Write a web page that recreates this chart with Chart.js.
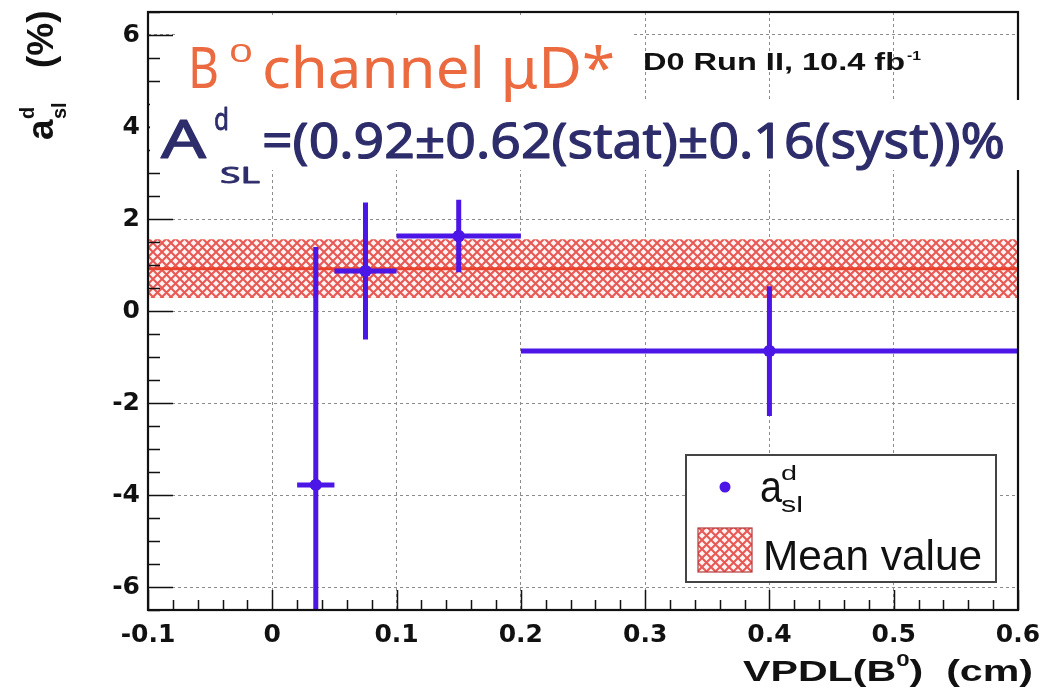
<!DOCTYPE html>
<html><head><meta charset="utf-8">
<script src="https://cdn.jsdelivr.net/npm/chart.js@4.4.1/dist/chart.umd.min.js"></script>
<style>html,body{margin:0;padding:0;background:#fff;}#wrap{width:1054px;height:696px;}</style>
</head><body><div id="wrap"><canvas id="c" width="1054" height="696"></canvas></div>
<script>
// ---- data ----
const vpdlCenter = [0.035, 0.075, 0.15, 0.40];
const vpdlLow    = [0.02, 0.05, 0.10, 0.20];
const vpdlHigh   = [0.05, 0.10, 0.20, 0.60];
const aslValue   = [-3.78, 0.87, 1.63, -0.87];
const aslError   = [5.17, 1.49, 0.79, 1.41];
const meanValue  = 0.92;
const meanError  = 0.64;
const xRange = [-0.1, 0.6];
const yRange = [-6.5, 6.5];
const xTickValues = [-0.1, 0, 0.1, 0.2, 0.3, 0.4, 0.5, 0.6];
const xTickLabels = ['-0.1','0','0.1','0.2','0.3','0.4','0.5','0.6'];
const yTickValues = [-6, -4, -2, 0, 2, 4, 6];
const yTickLabels = ['-6','-4','-2','0','2','4','6'];
const xMinorStep = 0.02, yMinorStep = 0.5;

const BLUE = '#4b16e6';
const RED = '#e8402a';

function makeHatch(){
  const n = 9;
  const p = document.createElement('canvas'); p.width = n; p.height = n;
  const g = p.getContext('2d');
  g.fillStyle = '#fff3f3'; g.fillRect(0,0,n,n);
  g.strokeStyle = 'rgba(228,72,68,0.9)'; g.lineWidth = 2.1;
  g.beginPath();
  g.moveTo(-2,-2); g.lineTo(n+2,n+2);
  g.moveTo(n+2,-2); g.lineTo(-2,n+2);
  g.stroke();
  return g.createPattern(p, 'repeat');
}
const hatch = makeHatch();

function fitText(ctx, text, font, color, x, y, w, stroke){
  ctx.save();
  ctx.font = font; ctx.fillStyle = color; ctx.textAlign = 'left'; ctx.textBaseline = 'alphabetic';
  const m = ctx.measureText(text).width;
  ctx.translate(x, y); ctx.scale(w / m, 1);
  ctx.fillText(text, 0, 0);
  if (stroke){ ctx.strokeStyle = color; ctx.lineWidth = stroke; ctx.lineJoin = 'round'; ctx.strokeText(text, 0, 0); }
  ctx.restore();
}
// runs: [{t, font, dy}] laid out in a row, whole row scaled to width w
function fitRuns(ctx, runs, color, x, y, w){
  ctx.save();
  ctx.fillStyle = color; ctx.textAlign = 'left'; ctx.textBaseline = 'alphabetic';
  let total = 0;
  runs.forEach(r => { ctx.font = r.font; r.w = ctx.measureText(r.t).width; total += r.w; });
  ctx.translate(x, y); ctx.scale(w / total, 1);
  let cx = 0;
  runs.forEach(r => { ctx.font = r.font; ctx.fillText(r.t, cx, r.dy || 0); cx += r.w; });
  ctx.restore();
}

const errorBars = {
  id: 'errorBars',
  afterDatasetsDraw(chart){
    const {ctx, chartArea: a, scales: {x, y}} = chart;
    ctx.save();
    ctx.beginPath(); ctx.rect(a.left, a.top, a.right - a.left, a.bottom - a.top); ctx.clip();
    ctx.strokeStyle = BLUE; ctx.lineWidth = 5; ctx.lineCap = 'butt';
    for (let i = 0; i < vpdlCenter.length; i++){
      const py = y.getPixelForValue(aslValue[i]);
      const px = x.getPixelForValue(vpdlCenter[i]);
      ctx.beginPath();
      ctx.moveTo(x.getPixelForValue(vpdlLow[i]), py);
      ctx.lineTo(x.getPixelForValue(vpdlHigh[i]), py);
      ctx.moveTo(px, y.getPixelForValue(aslValue[i] + aslError[i]));
      ctx.lineTo(px, y.getPixelForValue(aslValue[i] - aslError[i]));
      ctx.stroke();
      ctx.beginPath(); ctx.fillStyle = BLUE; ctx.arc(px, py, 6, 0, Math.PI*2); ctx.fill();
    }
    ctx.restore();
  }
};

const decor = {
  id: 'decor',
  afterDraw(chart){
    const {ctx, chartArea: a, scales: {x, y}} = chart;
    ctx.save();
    // ticks (inside)
    ctx.strokeStyle = '#111'; ctx.lineWidth = 1.5;
    ctx.beginPath();
    for (let v = yRange[0]; v <= yRange[1] + 1e-9; v += yMinorStep){
      const major = Math.abs(v / 2 - Math.round(v / 2)) < 1e-6;
      const py = Math.round(y.getPixelForValue(v)) + 0.5;
      ctx.moveTo(a.left, py); ctx.lineTo(a.left + (major ? 25 : 12), py);
    }
    for (let v = xRange[0]; v <= xRange[1] + 1e-9; v += xMinorStep){
      const major = Math.abs(v / 0.1 - Math.round(v / 0.1)) < 1e-6;
      const px = Math.round(x.getPixelForValue(v)) + 0.5;
      ctx.moveTo(px, a.bottom); ctx.lineTo(px, a.bottom - (major ? 20 : 10));
    }
    ctx.stroke();
    // frame
    ctx.strokeStyle = '#111'; ctx.lineWidth = 2.2;
    ctx.strokeRect(a.left, a.top, a.right - a.left, a.bottom - a.top);

    // white label boxes
    ctx.fillStyle = '#fff';
    ctx.fillRect(178, 16, 455, 84);
    ctx.fillRect(150, 100, 880, 70);

    // orange title
    const ORANGE = '#ec6a3f';
    fitText(ctx, 'B', '57px "Noto Sans"', ORANGE, 188, 88, 31);
    fitText(ctx, '0', '26px "Noto Sans"', ORANGE, 229, 62, 24);
    fitText(ctx, 'channel μD*', '57px "Noto Sans"', ORANGE, 262, 88, 353);

    // blue formula
    const NAVY = '#2e2d6b';
    fitText(ctx, 'A', '53px "Noto Sans"', NAVY, 161, 158, 45, 1.2);
    fitText(ctx, 'd', '31px "Noto Sans"', NAVY, 214, 130, 15, 0.8);
    fitText(ctx, 'SL', '22px "Noto Sans"', NAVY, 220, 183, 40, 0.8);
    fitText(ctx, '=(0.92±0.62(stat)±0.16(syst))%', '50px "Noto Sans"', NAVY, 262, 158, 743, 1.2);

    // D0 label
    fitText(ctx, 'D0 Run II, 10.4 fb', 'bold 23px "Liberation Sans"', '#111', 643, 70, 262);
    fitText(ctx, '-1', 'bold 13px "Liberation Sans"', '#111', 907, 60, 14);

    // legend
    ctx.fillStyle = '#fff'; ctx.fillRect(686, 455, 310, 127);
    ctx.strokeStyle = '#444'; ctx.lineWidth = 2; ctx.strokeRect(686, 455, 310, 127);
    ctx.fillStyle = BLUE; ctx.beginPath(); ctx.arc(725, 487, 5.5, 0, Math.PI*2); ctx.fill();
    fitText(ctx, 'a', '44px "Liberation Sans"', '#111', 760, 502, 22);
    fitText(ctx, 'd', '21px "Liberation Sans"', '#111', 781, 480, 16);
    fitText(ctx, 'sl', '22px "Liberation Sans"', '#111', 781, 512, 22);
    ctx.fillStyle = hatch; ctx.fillRect(698, 528, 54, 44);
    ctx.strokeStyle = '#b33a3a'; ctx.lineWidth = 1.2; ctx.strokeRect(698, 528, 54, 44);
    fitText(ctx, 'Mean value', '42px "Liberation Sans"', '#111', 763, 570, 219);

    // x-axis title
    fitRuns(ctx, [
      {t: 'VPDL(B', font: 'bold 29px "Liberation Sans"'},
      {t: '0', font: 'bold 17px "Liberation Sans"', dy: -15},
      {t: ')  (cm)', font: 'bold 29px "Liberation Sans"'}
    ], '#111', 743, 681, 290);

    // y-axis title (rotated)
    ctx.save();
    ctx.translate(53, 140); ctx.rotate(-Math.PI / 2);
    ctx.fillStyle = '#111'; ctx.textAlign = 'left'; ctx.textBaseline = 'alphabetic';
    ctx.font = 'bold 37px "Liberation Sans"'; ctx.fillText('a', 0, 0);
    ctx.font = 'bold 20px "Liberation Sans"'; ctx.fillText('d', 21, -19); ctx.fillText('sl', 21, 13);
    ctx.font = 'bold 37px "Liberation Sans"'; ctx.fillText('(%)', 72, 0);
    ctx.restore();

    ctx.restore();
  }
};

const tickFont = {family: '"DejaVu Sans"', weight: 'bold', size: 25};

new Chart(document.getElementById('c'), {
  data: {
    datasets: [
      {type: 'line', data: xRange.map(v => ({x: v, y: meanValue + meanError})), borderWidth: 0, pointRadius: 0, fill: false, order: 5},
      {type: 'line', data: xRange.map(v => ({x: v, y: meanValue - meanError})), borderWidth: 0, pointRadius: 0, fill: '-1', backgroundColor: hatch, order: 4},
      {type: 'line', data: xRange.map(v => ({x: v, y: meanValue})), borderColor: RED, borderWidth: 3, pointRadius: 0, fill: false, order: 3},
      {type: 'scatter', data: vpdlCenter.map((v, i) => ({x: v, y: aslValue[i]})), pointRadius: 6, backgroundColor: BLUE, borderWidth: 0, order: 1}
    ]
  },
  options: {
    responsive: false, animation: false, devicePixelRatio: 1,
    layout: {padding: {top: 12, right: 36, left: 0, bottom: 0}},
    plugins: {legend: {display: false}, tooltip: {enabled: false}},
    scales: {
      x: {
        type: 'linear', min: xRange[0], max: xRange[1],
        afterBuildTicks: s => { s.ticks = xTickValues.map(v => ({value: v})); },
        afterFit: s => { s.height = 86; s.paddingLeft = 0; s.paddingRight = 0; },
        ticks: {callback: (v, i) => xTickLabels[i], font: tickFont, color: '#111', padding: 10, autoSkip: false, maxRotation: 0},
        grid: {color: '#8c8c8c', lineWidth: 1, drawTicks: false},
        border: {display: false, dash: [3, 3]}
      },
      y: {
        type: 'linear', min: yRange[0], max: yRange[1],
        afterBuildTicks: s => { s.ticks = yTickValues.map(v => ({value: v})); },
        afterFit: s => { s.width = 148; s.paddingTop = 0; s.paddingBottom = 0; },
        ticks: {callback: (v, i) => yTickLabels[i], font: tickFont, color: '#111', padding: 8, autoSkip: false},
        grid: {color: '#8c8c8c', lineWidth: 1, drawTicks: false},
        border: {display: false, dash: [3, 3]}
      }
    }
  },
  plugins: [errorBars, decor]
});
</script>
</body></html>
